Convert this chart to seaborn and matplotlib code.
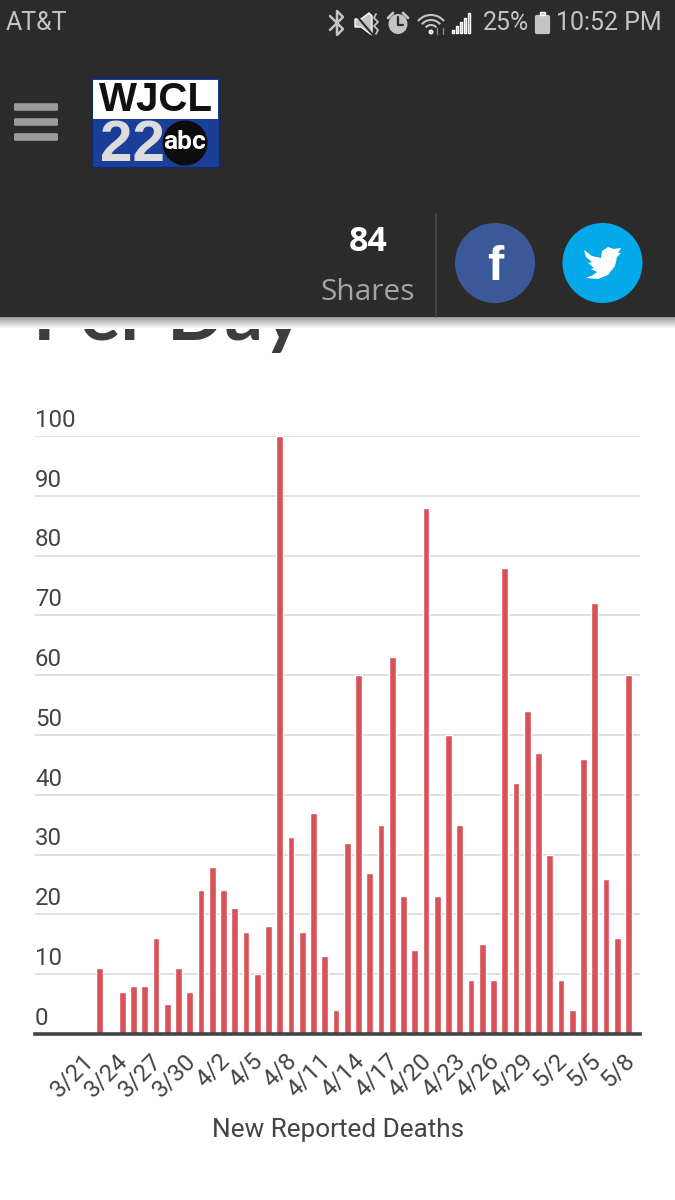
import matplotlib
matplotlib.use("Agg")
import matplotlib.pyplot as plt
import matplotlib.transforms as mtrans
import numpy as np
import pandas as pd
import seaborn as sns
from matplotlib.patches import Rectangle, Ellipse, Polygon, FancyBboxPatch, Arc

dates = ["3/21","3/22","3/23","3/24","3/25","3/26","3/27","3/28","3/29","3/30","3/31",
         "4/1","4/2","4/3","4/4","4/5","4/6","4/7","4/8","4/9","4/10","4/11","4/12","4/13",
         "4/14","4/15","4/16","4/17","4/18","4/19","4/20","4/21","4/22","4/23","4/24","4/25",
         "4/26","4/27","4/28","4/29","4/30","5/1","5/2","5/3","5/4","5/5","5/6","5/7","5/8"]
deaths = [0,11,0,7,8,8,16,5,11,7,24,28,24,21,17,10,18,100,33,17,37,13,4,32,60,27,35,63,
          23,14,88,23,50,35,9,15,9,78,42,54,47,30,9,4,46,72,26,16,60]
y_ticks = [0,10,20,30,40,50,60,70,80,90,100]
x_label_every = 3

W, H = 675, 1200
sns.set_theme(style="white")
plt.rcParams["font.family"] = ["Roboto", "DejaVu Sans"]
fig = plt.figure(figsize=(W/100, H/100), dpi=100, facecolor="white")

TXT = "#444444"
ax = fig.add_axes([35/W, 1-1034/H, 605/W, 598/H])
df = pd.DataFrame({"date": dates, "deaths": deaths})
sns.barplot(data=df, x="date", y="deaths", color="#d9525a", saturation=1, width=0.6, ax=ax, zorder=3)
ax.set_xlim(-4.75, 49.03)
ax.set_ylim(0, 100)
ax.set_xlabel("")
ax.set_ylabel("")
for s in ["top", "left", "right"]:
    ax.spines[s].set_visible(False)
ax.spines["bottom"].set_color("#444444")
ax.spines["bottom"].set_linewidth(2.6)
ax.spines["bottom"].set_zorder(5)
ax.set_yticks(y_ticks)
ax.yaxis.grid(True, color="#d6d6d6", lw=1.1, zorder=0)
ax.set_axisbelow(True)
ax.tick_params(axis="y", length=0, labelleft=False)
for v in y_ticks:
    ax.annotate(str(v), xy=(0, v), xycoords=("axes fraction", "data"), xytext=(0, 3),
                textcoords="offset points", ha="left", va="bottom", fontsize=17.3, color=TXT)
xt = list(range(0, len(dates), x_label_every))
ax.set_xticks(xt)
ax.set_xticklabels([dates[i] for i in xt], rotation=45, ha="right", va="top",
                   rotation_mode="anchor", fontsize=17.5, color=TXT)
ax.tick_params(axis="x", length=0, pad=11)
shift = mtrans.ScaledTranslation(-6/100, 0, fig.dpi_scale_trans)
for lab in ax.get_xticklabels():
    lab.set_transform(lab.get_transform() + shift)
fig.text(338/W, 1-1130/H, "New Reported Deaths", ha="center", va="center", fontsize=18.8, color=TXT)

ov = fig.add_axes([0, 0, 1, 1], facecolor="none")
ov.set_xlim(0, W); ov.set_ylim(H, 0); ov.axis("off")
ov.text(33, 340, "Per Day", fontsize=54.5, fontweight="bold", color="#3d3d3d", family="Lato",
        ha="left", va="baseline", zorder=1)
grad = np.linspace(0.62, 1, 12).reshape(-1, 1)
ov.imshow(grad, extent=(0, W, 329, 317), cmap="gray", vmin=0, vmax=1, aspect="auto", zorder=2)
ov.set_xlim(0, W); ov.set_ylim(H, 0)
DARK = "#2b2b2b"
ov.add_patch(Rectangle((0, 0), W, 317, fc=DARK, ec="none", zorder=3))
Z = 4
C = "#c4c4c4"
ov.text(6, 23, "AT&T", fontsize=18, color=C, va="center", ha="left", zorder=Z)
ov.text(483, 23, "25%", fontsize=18, color=C, va="center", ha="left", zorder=Z)
ov.text(662, 23, "10:52 PM", fontsize=18, color=C, va="center", ha="right", zorder=Z)
ov.plot([330, 343, 337, 337, 343, 330], [16, 29, 35, 11, 17, 30], color=C, lw=1.8, zorder=Z)
ov.add_patch(Polygon([[355,19],[361,19],[369,13],[372,16],[372,35],[369,33],[361,27],[355,27]], fc=C, zorder=Z))
ov.plot([355, 373], [14, 35], color=DARK, lw=1.5, zorder=Z+1)
ov.plot([376, 374, 378, 374, 378, 376], [14, 18, 22, 26, 30, 34], color=C, lw=1.3, zorder=Z)
ov.add_patch(Ellipse((398, 24), 19, 20, fc=C, ec="none", zorder=Z))
ov.plot([398, 398, 403], [17, 25, 25], color=DARK, lw=1.6, zorder=Z+1)
ov.plot([388, 393], [18, 13], color=C, lw=2, zorder=Z)
ov.plot([403, 408], [13, 18], color=C, lw=2, zorder=Z)
for w in (14, 24, 34):
    ov.add_patch(Arc((431, 32), w, w, theta1=220, theta2=320, color=C, lw=1.5, zorder=Z))
ov.add_patch(Ellipse((431, 32), 3.5, 3.5, fc=C, zorder=Z))
ov.plot([437, 437], [28, 34], color="#888888", lw=1, zorder=Z)
ov.plot([443, 443], [28, 34], color="#888888", lw=1, zorder=Z)
for i, h in enumerate((3, 7, 11, 15, 20)):
    ov.add_patch(Rectangle((452 + i*4, 33 - h), 2, h, fc="#aaaaaa" if i < 4 else "#777777", zorder=Z))
ov.add_patch(FancyBboxPatch((536, 16), 13, 17, boxstyle="round,pad=0,rounding_size=1", fc=C, ec=C, lw=1.6, zorder=Z))
ov.add_patch(Rectangle((540, 12), 5, 3, fc=C, zorder=Z))
for y in (107, 122, 137):
    ov.add_patch(FancyBboxPatch((14, y - 3.8), 44, 7.6, boxstyle="round,pad=0,rounding_size=1.5", fc="#9b9b9b", ec="none", zorder=Z))
ov.add_patch(Rectangle((92, 78), 127, 89, fc="#1b3f98", ec="#102a70", lw=1, zorder=Z))
ov.add_patch(Rectangle((93, 80), 125, 39, fc="white", ec="none", zorder=Z))
ov.text(155.5, 100, "WJCL", fontsize=29, fontweight="bold", family="Liberation Sans", color="#111111",
        ha="center", va="center", zorder=Z+1)
ov.text(100, 146, "22", fontsize=42, fontweight="bold", family="Liberation Sans", color="#dcdcdc",
        ha="left", va="center", zorder=Z+1)
ov.add_patch(Ellipse((185, 143), 45, 45, fc="#0c0c0c", ec="none", zorder=Z+2))
ov.text(185, 142, "abc", fontsize=19, fontweight="bold", color="white", ha="center", va="center", zorder=Z+3)
ov.text(368, 242, "84", fontsize=24.5, fontweight="bold", family="Open Sans", color="white", ha="center", va="center", zorder=Z)
ov.text(368, 292, "Shares", fontsize=21.5, family="Open Sans", color="#a5a5a5", ha="center", va="center", zorder=Z)
ov.plot([436, 436], [214, 317], color="#4a4a4a", lw=1.2, zorder=Z)
ov.add_patch(Ellipse((495, 263), 80, 80, fc="#3b5998", ec="none", zorder=Z))
ov.text(495, 267, "f", fontsize=35, fontweight="bold", family="Liberation Sans", color="white", ha="center", va="center", zorder=Z+1)
ov.add_patch(Ellipse((602.5, 263), 80, 80, fc="#04a9ea", ec="none", zorder=Z))
bird = [[584,250],[592,256],[601,258],[602,251],[608,247],[614,249],[621,248],[618,253],[621,253],[617,257],
        [615,266],[608,275],[598,279],[586,278],[593,275],[597,272],[591,269],[594,268],[588,263],[592,262],[586,257]]
ov.add_patch(Polygon(bird, fc="white", ec="none", zorder=Z+1))

fig.savefig("out.png", dpi=100)
